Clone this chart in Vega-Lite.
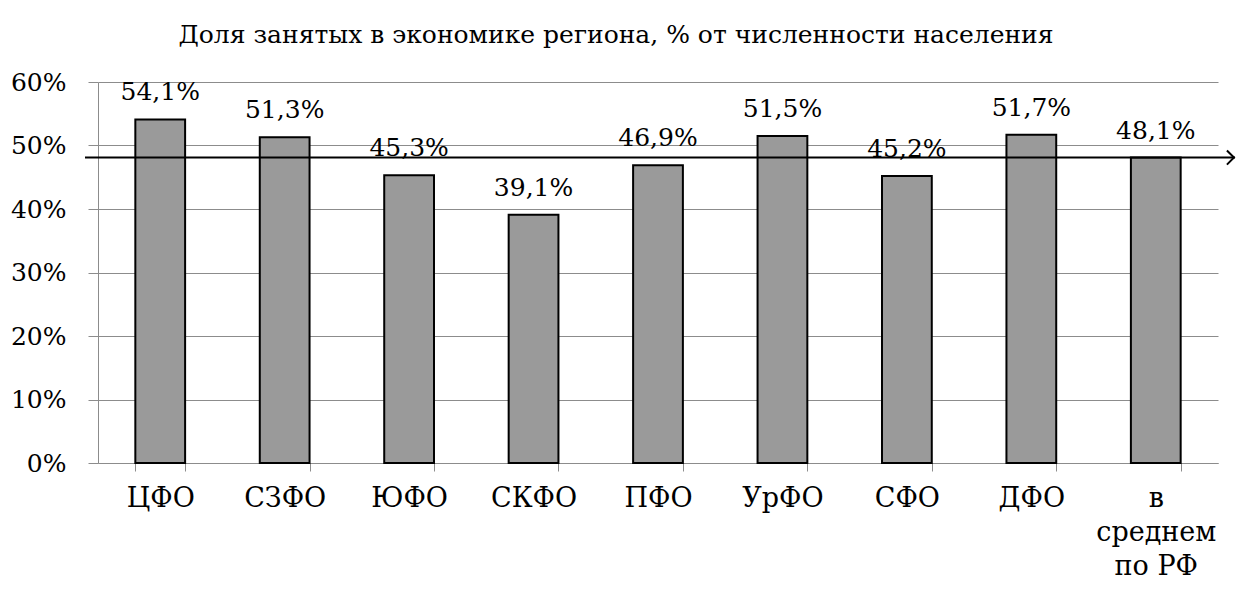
{
  "$schema": "https://vega.github.io/schema/vega-lite/v6.json",
  "width": 1120,
  "height": 381,
  "autosize": {"type": "none"},
  "padding": {"left": 98, "top": 82, "right": 19, "bottom": 129},
  "background": "white",
  "config": {
    "locale": {"number": {"decimal": ",", "thousands": " ", "grouping": [3], "currency": ["", " руб."]}},
    "font": "DejaVu Serif",
    "view": {"stroke": null}
  },
  "title": {
    "text": "Доля занятых в экономике региона, % от численности населения",
    "font": "DejaVu Serif",
    "fontSize": 25,
    "fontWeight": "normal",
    "color": "black",
    "anchor": "middle",
    "dx": -42,
    "offset": 22
  },
  "data": {
    "values": [
      {"region": "ЦФО", "share": 0.541},
      {"region": "СЗФО", "share": 0.513},
      {"region": "ЮФО", "share": 0.453},
      {"region": "СКФО", "share": 0.391},
      {"region": "ПФО", "share": 0.469},
      {"region": "УрФО", "share": 0.515},
      {"region": "СФО", "share": 0.452},
      {"region": "ДФО", "share": 0.517},
      {"region": "в среднем по РФ", "share": 0.481}
    ]
  },
  "encoding": {
    "x": {
      "field": "region",
      "type": "nominal",
      "sort": null,
      "scale": {"paddingInner": 0.6, "paddingOuter": 0.3},
      "axis": {
        "title": null,
        "labelAngle": 0,
        "labelFont": "DejaVu Serif",
        "labelFontSize": 27,
        "labelColor": "black",
        "labelPadding": 14,
        "labelLineHeight": 34,
        "labelExpr": "datum.value == 'в среднем по РФ' ? ['в', 'среднем', 'по РФ'] : datum.value",
        "tickBand": "extent",
        "tickSize": 8,
        "tickColor": "#8c8c8c",
        "domainColor": "#8c8c8c",
        "grid": false
      }
    },
    "y": {
      "field": "share",
      "type": "quantitative",
      "scale": {"domain": [0, 0.6]},
      "axis": {
        "title": null,
        "format": ".0%",
        "values": [0, 0.1, 0.2, 0.3, 0.4, 0.5, 0.6],
        "labelFont": "DejaVu Serif",
        "labelFontSize": 25,
        "labelColor": "black",
        "labelPadding": 22,
        "tickSize": 10,
        "tickColor": "#8c8c8c",
        "domainColor": "#8c8c8c",
        "grid": true,
        "gridColor": "#8c8c8c",
        "gridWidth": 1
      }
    }
  },
  "layer": [
    {
      "mark": {"type": "bar", "fill": "#9a9a9a", "stroke": "black", "strokeWidth": 2}
    },
    {
      "mark": {"type": "text", "baseline": "middle", "dy": -27, "fontSize": 25, "font": "DejaVu Serif", "color": "black"},
      "encoding": {"text": {"field": "share", "type": "quantitative", "format": ".1%"}}
    },
    {
      "data": {"values": [{"avg": 0.481}]},
      "mark": {"type": "rule", "color": "black", "strokeWidth": 2},
      "encoding": {
        "y": {"field": "avg", "type": "quantitative"},
        "x": {"value": -13},
        "x2": {"value": 1137}
      }
    },
    {
      "data": {"values": [{"avg": 0.481}]},
      "mark": {"type": "point", "shape": "M-1,-1L0,0L-1,1", "filled": false, "stroke": "black", "strokeWidth": 2, "size": 200, "opacity": 1},
      "encoding": {
        "y": {"field": "avg", "type": "quantitative"},
        "x": {"value": 1136}
      }
    }
  ]
}
